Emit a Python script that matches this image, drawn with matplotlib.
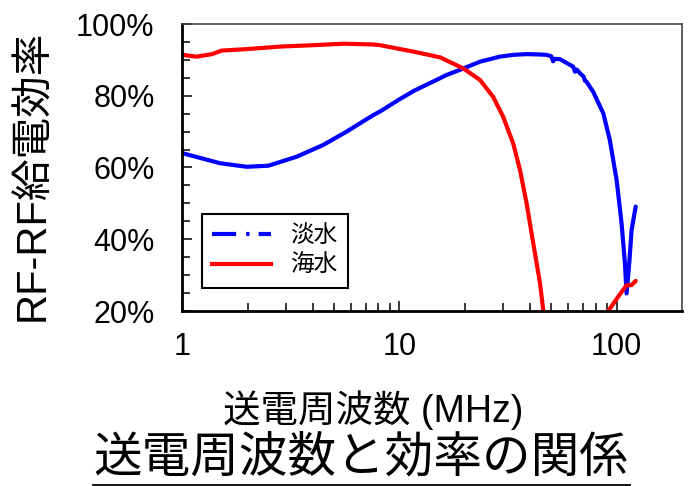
import numpy as np
import matplotlib
matplotlib.use("Agg")
import matplotlib.pyplot as plt
from matplotlib.ticker import FixedLocator, MultipleLocator, FuncFormatter, NullFormatter
from matplotlib.lines import Line2D

# ---- data ----
fresh_freq = [1.0, 1.49, 1.98, 2.49, 3.36, 4.46, 5.71, 7.57, 8.13, 10.0, 11.6,
              16.5, 19.7, 23.5, 29.0, 33.4, 38.5, 44.4, 47.6, 50.0, 51.0, 52.0,
              54.8, 63.1, 64.3, 65.5, 67.8, 70.5, 71.4, 72.5, 78.0, 86.8, 93.0,
              100.0, 105.4, 109.2, 111.1, 114.3, 117.2, 122.4]
fresh_eff = [64.0, 61.2, 60.2, 60.5, 63.0, 66.3, 70.0, 74.6, 75.6, 79.0, 81.3,
             85.8, 87.6, 89.5, 90.9, 91.4, 91.6, 91.5, 91.4, 91.0, 89.6, 90.3,
             90.2, 88.1, 86.7, 87.3, 86.3, 85.3, 84.2, 84.0, 81.1, 75.1, 67.7,
             56.5, 44.4, 33.3, 24.9, 33.3, 42.6, 49.1]

sea_freq = [1.0, 1.165, 1.37, 1.52, 1.98, 2.82, 4.01, 5.51, 7.57, 8.13, 9.7, 11.6,
            15.4, 19.7, 23.5, 27.0, 30.0, 33.4, 35.9, 38.5, 41.3, 44.4, 45.9, 46.5,
            np.nan,
            89.0, 91.5, 101.7, 111.1, 117.0, 122.4]
sea_eff = [91.4, 90.9, 91.6, 92.6, 93.0, 93.7, 94.1, 94.5, 94.3, 94.1, 93.2, 92.3,
           90.7, 87.6, 84.4, 79.7, 74.2, 66.7, 59.3, 50.0, 38.9, 27.7, 20.3, 17.5,
           np.nan,
           18.5, 20.0, 24.0, 27.2, 27.2, 28.4]

x_ticks = [1, 10, 100]
x_ticklabels = ["1", "10", "100"]
y_ticks = [20, 40, 60, 80, 100]

series_labels = ["淡水", "海水"]
fresh_color = "#0000FF"
sea_color = "#FF0000"

FONT = ["Liberation Sans", "Noto Sans CJK JP", "DejaVu Sans"]
plt.rcParams["font.family"] = FONT

fig = plt.figure(figsize=(6.88, 4.86), dpi=100)
W, H = 688, 486
ax = fig.add_axes([182.3 / W, 1 - 311 / H, (682 - 182.3) / W, (311 - 24) / H])

ax.plot(fresh_freq, fresh_eff, color=fresh_color, lw=3.0, solid_joinstyle="round",
        solid_capstyle="round")
ax.plot(sea_freq, sea_eff, color=sea_color, lw=3.0, solid_joinstyle="round",
        solid_capstyle="round")

ax.set_xscale("log")
ax.set_xlim(1, 200)
ax.set_ylim(20, 100)

ax.xaxis.set_major_locator(FixedLocator(x_ticks))
ax.set_xticklabels(x_ticklabels)
ax.xaxis.set_minor_locator(FixedLocator([2, 3, 4, 5, 6, 7, 8, 9,
                                         20, 30, 40, 50, 60, 70, 80, 90]))
ax.xaxis.set_minor_formatter(NullFormatter())
ax.yaxis.set_major_locator(FixedLocator(y_ticks))
ax.yaxis.set_minor_locator(MultipleLocator(5))
ax.yaxis.set_major_formatter(FuncFormatter(lambda v, p: f"{int(round(v))}%"))

ax.tick_params(axis="both", which="both", direction="in", top=False, right=False,
               width=1.1, color="black")
ax.tick_params(axis="both", which="major", length=7.5, labelsize=22)
ax.tick_params(axis="both", which="minor", length=5.5)
ax.tick_params(axis="x", which="major", pad=15)
ax.tick_params(axis="y", which="major", pad=20)

for s in ["left", "bottom"]:
    ax.spines[s].set_linewidth(2.0)
    ax.spines[s].set_color("black")
for s in ["top", "right"]:
    ax.spines[s].set_linewidth(1.2)
    ax.spines[s].set_color("#444444")

ax.set_ylabel("RF-RF給電効率", fontsize=30, va="center")
ax.yaxis.set_label_coords(-0.299, 0.474)

# legend (proxy handles)
h_fresh = Line2D([], [], color=fresh_color, lw=3.0, dashes=(5.8, 2.4, 0.8, 2.2))
h_sea = Line2D([], [], color=sea_color, lw=3.0)
leg = ax.legend([h_fresh, h_sea], series_labels, loc="lower left",
                bbox_to_anchor=(0.0388, 0.080), borderaxespad=0,
                fontsize=17, frameon=True, fancybox=False, edgecolor="black",
                framealpha=1, handlelength=2.5, handletextpad=0.8,
                borderpad=0.45, labelspacing=0.35)
leg.get_frame().set_linewidth(1.5)

fig.text(373 / W, 1 - 410 / H, "送電周波数 (MHz)", fontsize=27,
         ha="center", va="center")
fig.text(361 / W, 1 - 459 / H, "送電周波数と効率の関係", fontsize=35,
         ha="center", va="center")
fig.add_artist(Line2D([93 / W, 630 / W], [1 - 484.5 / H, 1 - 484.5 / H],
                      color="black", lw=1.3, transform=fig.transFigure))

fig.savefig("out.png", dpi=100)
